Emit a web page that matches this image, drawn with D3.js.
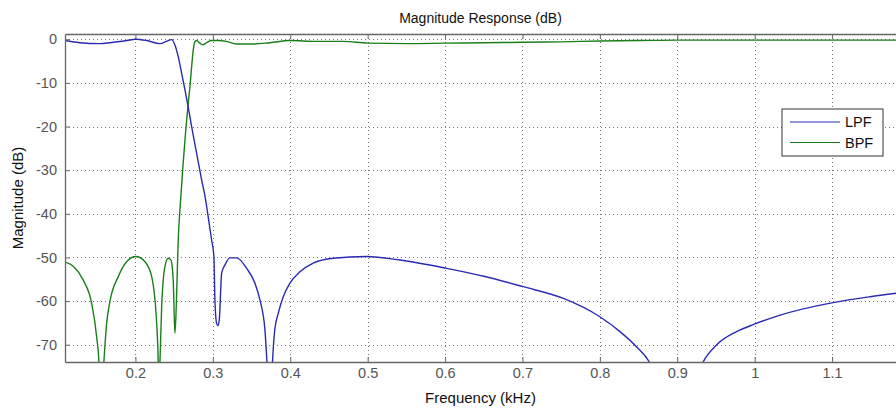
<!DOCTYPE html>
<html>
<head>
<meta charset="utf-8">
<script src="https://cdn.jsdelivr.net/npm/d3@7"></script>
<style>
  body { margin: 0; background: #fff; }
  text { font-family: "Liberation Sans", Arial, sans-serif; }
</style>
</head>
<body>
<div id="chart"></div>
<script>
// frequency (kHz) / magnitude (dB) pairs
var lpfFreq = [0.109, 0.128, 0.154, 0.167, 0.189, 0.200, 0.2145, 0.2317, 0.240, 0.2468, 0.251,
  0.2553, 0.2597, 0.264, 0.268, 0.2726, 0.279, 0.2855, 0.2907, 0.294, 0.2984, 0.3014, 0.3027,
  0.3049, 0.3066, 0.3083, 0.3114, 0.3157, 0.322, 0.3307, 0.3437, 0.3544, 0.3609, 0.3673,
  0.370, 0.373, 0.376, 0.3772, 0.380, 0.3845, 0.391, 0.3996, 0.4125, 0.4297, 0.4556, 0.4987,
  0.5417, 0.602, 0.650, 0.701, 0.753, 0.800, 0.826, 0.8475, 0.8638, 0.870, 0.900, 0.928,
  0.9336, 0.951, 0.9767, 0.9995, 1.033, 1.0995, 1.149, 1.183];
var lpfMag = [-0.3, -0.8, -1.0, -0.8, -0.3, 0.0, -0.3, -1.0, -0.5, -0.1, -1.3,
  -4.0, -7.8, -11.6, -15.4, -20.0, -26.1, -32.2, -36.8, -40.7, -46.0, -49.8, -59.8,
  -65.1, -65.6, -64.3, -53.6, -51.7, -50.1, -50.1, -52.5, -55.9, -59.8, -66.6,
  -74.3, -85, -78, -73.5, -66.6, -62.8, -59.0, -55.9, -53.3, -51.3, -50.2, -49.8,
  -50.6, -52.5, -54.3, -56.7, -59.4, -63.6, -67.0, -70.5, -73.9, -76, -90, -76,
  -73.9, -70.0, -67.0, -65.3, -63.2, -60.4, -59.0, -58.2];

var bpfFreq = [0.109, 0.120, 0.1326, 0.1434, 0.1499, 0.153, 0.155, 0.157, 0.159, 0.1628, 0.167,
  0.1778, 0.1886, 0.2006, 0.2123, 0.221, 0.2274, 0.2295, 0.230, 0.2315, 0.2339, 0.2381,
  0.2424, 0.2459, 0.2488, 0.251, 0.2523, 0.254, 0.2553, 0.2584, 0.261, 0.264, 0.2662,
  0.2682, 0.2704, 0.2726, 0.2747, 0.2769, 0.279, 0.2833, 0.2868, 0.292, 0.2984, 0.307,
  0.3178, 0.3307, 0.352, 0.3738, 0.3996, 0.434, 0.4685, 0.50, 0.55, 0.60, 0.65, 0.70,
  0.75, 0.80, 0.85, 0.90, 1.00, 1.10, 1.183];
var bpfMag = [-51.0, -52.1, -55.2, -60.5, -68.2, -74.5, -85, -80, -74.5, -65.1, -60.1,
  -54.4, -51.0, -49.8, -51.0, -54.4, -65.1, -74.5, -82, -75, -61.3, -52.1,
  -50.2, -50.6, -55.2, -67.4, -63.6, -53.6, -46.0, -36.8, -30.0, -23.1, -18.5,
  -14.7, -10.9, -6.3, -2.5, -0.5, -0.3, -0.9, -1.3, -0.8, -0.3, -0.3,
  -0.5, -1.1, -1.1, -0.8, -0.3, -0.5, -0.5, -0.9, -1.0, -0.9, -0.8, -0.7,
  -0.6, -0.4, -0.3, -0.2, -0.2, -0.2, -0.2];

var xTicks = [0.2, 0.3, 0.4, 0.5, 0.6, 0.7, 0.8, 0.9, 1, 1.1];
var yTicks = [0, -10, -20, -30, -40, -50, -60, -70];
var seriesNames = ["LPF", "BPF"];

var width = 896, height = 414;
var margin = {top: 34, right: 0, bottom: 52, left: 65};
var plotW = width - margin.left - margin.right,
    plotH = height - margin.top - margin.bottom;

var svg = d3.select("#chart")
  .append("svg")
  .attr("width", width)
  .attr("height", height);

var x = d3.scaleLinear()
  .domain([0.109, 1.1826])
  .range([0, plotW]);
var y = d3.scaleLinear()
  .domain([-73.96, 1.2])
  .range([plotH, 0]);

var g = svg.append("g")
  .attr("transform", "translate(" + margin.left + "," + margin.top + ")");

g.append("defs").append("clipPath")
  .attr("id", "clip")
  .append("rect")
  .attr("width", plotW)
  .attr("height", plotH);

// dotted grid
g.append("g")
  .selectAll("line")
  .data(xTicks)
  .enter()
  .append("line")
  .attr("x1", d => Math.round(x(d)) + 0.5)
  .attr("x2", d => Math.round(x(d)) + 0.5)
  .attr("y1", 0)
  .attr("y2", plotH)
  .attr("stroke", "#777")
  .attr("stroke-dasharray", "1,3");
g.append("g")
  .selectAll("line")
  .data(yTicks)
  .enter()
  .append("line")
  .attr("x1", 0)
  .attr("x2", plotW)
  .attr("y1", d => Math.round(y(d)) + 0.5)
  .attr("y2", d => Math.round(y(d)) + 0.5)
  .attr("stroke", "#777")
  .attr("stroke-dasharray", "1,3");

// curves
var lpf = lpfFreq.map((f, i) => [f, lpfMag[i]]);
var bpf = bpfFreq.map((f, i) => [f, bpfMag[i]]);
var line = d3.line()
  .curve(d3.curveMonotoneX)
  .x(d => x(d[0]))
  .y(d => y(d[1]));
var colours = ["#2a2ab2", "#1a7f1a"];

g.append("path")
  .datum(bpf)
  .attr("clip-path", "url(#clip)")
  .attr("fill", "none")
  .attr("stroke", colours[1])
  .attr("stroke-width", 1.4)
  .attr("d", line);
g.append("path")
  .datum(lpf)
  .attr("clip-path", "url(#clip)")
  .attr("fill", "none")
  .attr("stroke", colours[0])
  .attr("stroke-width", 1.4)
  .attr("d", line);

// axes, ticks pointing inward
var axisColour = "#666";
var xb = g.append("g")
  .attr("transform", "translate(0," + plotH + ")")
  .call(d3.axisBottom(x).tickValues(xTicks).tickSizeInner(-5).tickSizeOuter(0).tickPadding(6)
    .tickFormat(d => String(d)));
var xt = g.append("g")
  .call(d3.axisTop(x).tickValues(xTicks).tickSizeInner(-5).tickSizeOuter(0).tickFormat(""));
var yl = g.append("g")
  .call(d3.axisLeft(y).tickValues(yTicks).tickSizeInner(-5).tickSizeOuter(0).tickPadding(8)
    .tickFormat(d => String(d)));
[xb, xt, yl].forEach(function (a) {
  a.select(".domain").attr("stroke", axisColour).attr("stroke-width", 1.3);
  a.selectAll(".tick line").attr("stroke", axisColour);
  a.selectAll(".tick text")
    .attr("fill", "#555")
    .style("font-size", "14.5px")
    .style("font-family", "Liberation Sans, Arial, sans-serif");
});

// legend
var lg = svg.append("g")
  .attr("transform", "translate(782,109)");
lg.append("rect")
  .attr("width", 101)
  .attr("height", 47)
  .attr("fill", "#fff")
  .attr("stroke", "#333");
seriesNames.forEach(function (name, i) {
  lg.append("line")
    .attr("x1", 8)
    .attr("x2", 58)
    .attr("y1", 13 + i * 20.5)
    .attr("y2", 13 + i * 20.5)
    .attr("stroke", colours[i])
    .attr("stroke-width", 1.2);
  lg.append("text")
    .attr("x", 63)
    .attr("y", 13 + i * 20.5)
    .attr("dy", "0.35em")
    .attr("fill", "#111")
    .style("font-size", "14.5px")
    .text(name);
});

// titles
svg.append("text")
  .attr("x", margin.left + plotW / 2)
  .attr("y", 23)
  .attr("text-anchor", "middle")
  .attr("fill", "#111")
  .style("font-size", "14px")
  .text("Magnitude Response (dB)");
svg.append("text")
  .attr("x", margin.left + plotW / 2)
  .attr("y", 403)
  .attr("text-anchor", "middle")
  .attr("fill", "#111")
  .style("font-size", "15px")
  .text("Frequency (kHz)");
svg.append("text")
  .attr("transform", "translate(23," + (margin.top + plotH / 2) + ") rotate(-90)")
  .attr("text-anchor", "middle")
  .attr("fill", "#111")
  .style("font-size", "15px")
  .text("Magnitude (dB)");
</script>
</body>
</html>
